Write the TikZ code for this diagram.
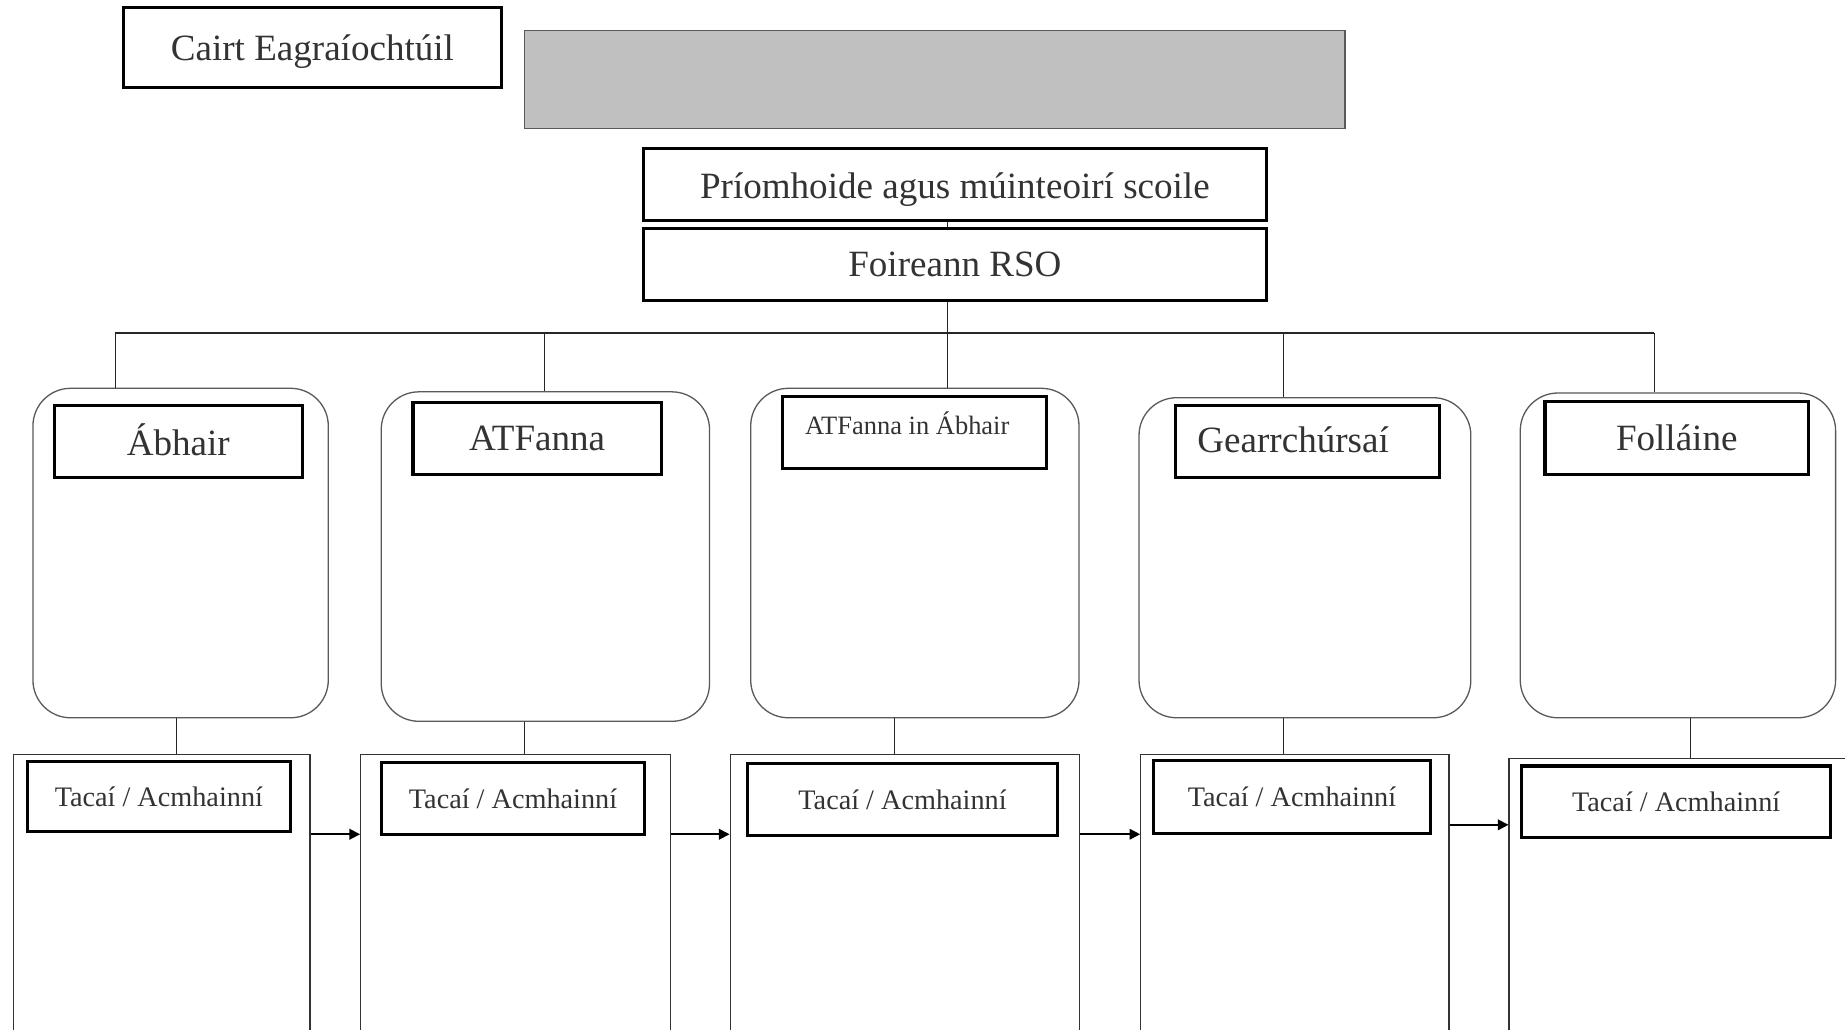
\documentclass[tikz,border=0pt]{standalone}
\usepackage{fontspec}
\setmainfont{Liberation Serif}
\usetikzlibrary{arrows.meta}
\definecolor{txt}{HTML}{333333}
\definecolor{graybox}{HTML}{C0C0C0}
\begin{document}
\begin{tikzpicture}[x=1pt,y=-1pt,
  thickbox/.style={draw=black,line width=2.6pt,inner sep=0pt,text=txt},
  label/.style={text=txt,inner sep=0pt},
  roundbox/.style={draw=black!65,line width=1.1pt,rounded corners=32pt,inner sep=0pt},
  lowbox/.style={draw=black!80,line width=1pt,inner sep=0pt},
  link/.style={draw=black!85,line width=0.9pt},
  arr/.style={draw=black,line width=1.5pt,-{Triangle[length=9pt,width=9pt]}},
  big/.style={font=\fontsize{31.5}{36}\selectfont},
  mid/.style={font=\fontsize{24}{28}\selectfont},
  small/.style={font=\fontsize{22.5}{26}\selectfont}]
\useasboundingbox (0,0) rectangle (1568,875);
\clip (0,0) rectangle (1568,875);
\fill[white] (0,0) rectangle (1568,875);

% top
\node[thickbox,minimum width=321pt,minimum height=68pt] (cairt) at (265.5,40) {};
\node[label,big] (cairttext) at (265.5,44) {Cairt Eagraíochtúil};
\node[draw=black!65,fill=graybox,line width=1pt,minimum width=697pt,minimum height=83pt,inner sep=0pt] (grey) at (794.5,67.5) {};
\node[thickbox,minimum width=529pt,minimum height=61pt] (priomh) at (811.5,156.5) {};
\node[label,big] (priomhtext) at (811.5,161) {Príomhoide agus múinteoirí scoile};
\node[thickbox,big,minimum width=529pt,minimum height=61pt] (foireann) at (811.5,224.5) {Foireann RSO};

% rounded boxes
\node[roundbox,minimum width=251pt,minimum height=280pt] (r1) at (153.5,470) {};
\node[roundbox,minimum width=279pt,minimum height=280pt] (r2) at (463.5,473) {};
\node[roundbox,minimum width=279pt,minimum height=280pt] (r3) at (777.5,470) {};
\node[roundbox,minimum width=282pt,minimum height=272pt] (r4) at (1109,474) {};
\node[roundbox,minimum width=268pt,minimum height=276pt] (r5) at (1426,472) {};

% titles
\node[thickbox,minimum width=211pt,minimum height=61pt] (t1) at (151.5,375.5) {};
\node[label,big] (t1text) at (151.5,373.5) {Ábhair};
\node[thickbox,big,minimum width=211pt,minimum height=61pt] (t2) at (456.5,372.5) {ATFanna};
\node[thickbox,minimum width=224pt,minimum height=61pt] (t3) at (777,367.5) {};
\node[label,small] (t3text) at (771,360) {ATFanna in Ábhair};
\node[thickbox,minimum width=224pt,minimum height=61pt] (t4) at (1111,375.5) {};
\node[label,big] (t4text) at (1099,374) {Gearrchúrsaí};
\node[thickbox,big,minimum width=224pt,minimum height=62pt] (t5) at (1425,372) {Folláine};

% lower boxes
\node[lowbox,minimum width=252pt,minimum height=260pt,anchor=north west] (low1) at (11,641) {};
\node[lowbox,minimum width=263pt,minimum height=260pt,anchor=north west] (low2) at (306,641) {};
\node[lowbox,minimum width=297pt,minimum height=260pt,anchor=north west] (low3) at (620,641) {};
\node[lowbox,minimum width=262pt,minimum height=260pt,anchor=north west] (low4) at (969,641) {};
\node[lowbox,minimum width=300pt,minimum height=260pt,anchor=north west] (low5) at (1282,644) {};

% Tacaí boxes
\node[thickbox,mid,minimum width=224pt,minimum height=60pt] (s1) at (135,677) {Tacaí / Acmhainní};
\node[thickbox,mid,minimum width=224pt,minimum height=61pt] (s2) at (436,678.5) {Tacaí / Acmhainní};
\node[thickbox,mid,minimum width=264pt,minimum height=61pt] (s3) at (767,679.5) {Tacaí / Acmhainní};
\node[thickbox,mid,minimum width=236pt,minimum height=62pt] (s4) at (1098,677) {Tacaí / Acmhainní};
\node[thickbox,mid,minimum width=263pt,minimum height=61pt] (s5) at (1424.5,681.5) {Tacaí / Acmhainní};

% tree connectors
\coordinate (b1) at (98,283);
\coordinate (b2) at (463,283);
\coordinate (b3) at (805,283);
\coordinate (b4) at (1091,283);
\coordinate (b5) at (1406,283);
\draw[link] (priomh.south -| b3) -- (foireann.north -| b3);
\draw[link] (foireann.south -| b3) -- (b3);
\draw[link] (b1) -- (b5);
\draw[link] (b1) -- (b1 |- r1.north);
\draw[link] (b2) -- (b2 |- r2.north);
\draw[link] (b3) -- (b3 |- r3.north);
\draw[link] (b4) -- (b4 |- r4.north);
\draw[link] (b5) -- (b5 |- r5.north);

% lower connectors
\coordinate (c1) at (150,0);
\coordinate (c2) at (446,0);
\coordinate (c3) at (760,0);
\coordinate (c4) at (1091,0);
\coordinate (c5) at (1437,0);
\draw[link] (r1.south -| c1) -- (low1.north -| c1);
\draw[link] (r2.south -| c2) -- (low2.north -| c2);
\draw[link] (r3.south -| c3) -- (low3.north -| c3);
\draw[link] (r4.south -| c4) -- (low4.north -| c4);
\draw[link] (r5.south -| c5) -- (low5.north -| c5);

% arrows
\draw[arr] ([yshift=-68pt]low1.north east) -- ([yshift=-68pt]low2.north west);
\draw[arr] ([yshift=-68pt]low2.north east) -- ([yshift=-68pt]low3.north west);
\draw[arr] ([yshift=-68pt]low3.north east) -- ([yshift=-68pt]low4.north west);
\draw[arr] ([yshift=-60pt]low4.north east) -- ([yshift=-57pt]low5.north west);
\end{tikzpicture}
\end{document}
